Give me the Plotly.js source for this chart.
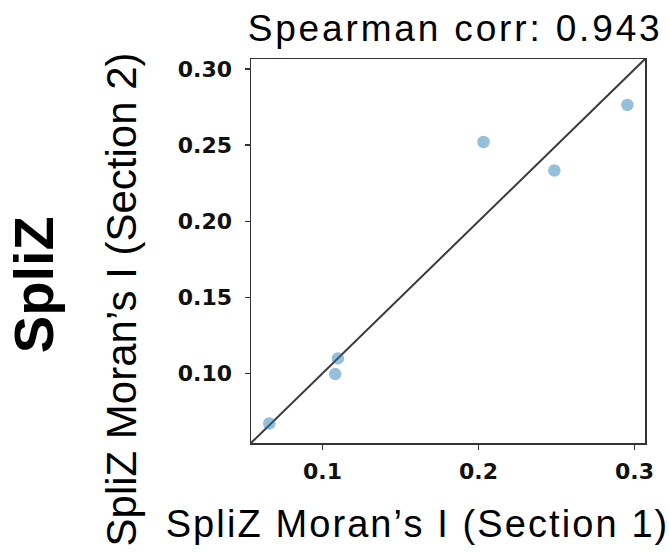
<!DOCTYPE html>
<html>
<head>
<meta charset="utf-8">
<script src="https://cdn.plot.ly/plotly-3.0.1.min.js"></script>
<style>
  html, body { margin: 0; padding: 0; background: #ffffff; }
  #chart { width: 669px; height: 553px; }
  /* looser tracking for the headline and the horizontal axis caption */
  #chart .gtitle { letter-spacing: 2.85px; }
  #chart g.annotation[data-index="0"] text { letter-spacing: 2.1px; }
</style>
</head>
<body>
<div id="chart"></div>
<script>
// Moran's I of each SpliZ feature, measured on two tissue sections
const section1 = [0.0659, 0.1099, 0.1082, 0.2032, 0.2486, 0.2954];
const section2 = [0.0670, 0.1098, 0.0995, 0.2521, 0.2334, 0.2765];

// shared axis limits; the identity line spans them
const axisLimits = [0.0542, 0.3067];

const xTickValues = [0.1, 0.2, 0.3];
const xTickLabels = ['0.1', '0.2', '0.3'];
const yTickValues = [0.10, 0.15, 0.20, 0.25, 0.30];
const yTickLabels = ['0.10', '0.15', '0.20', '0.25', '0.30'];

const titleText = 'Spearman corr: 0.943';
const xTitleText = 'SpliZ Moran\u2019s I (Section 1)';
const yTitleText = 'SpliZ Moran\u2019s I (Section 2)';
const rowLabel = 'SpliZ';

const tickFont = { family: 'DejaVu Sans', size: 22, color: '#111111', weight: 'bold' };
const spine = '#333333';

const traces = [
  {
    type: 'scatter',
    mode: 'lines',
    x: axisLimits,
    y: axisLimits,
    line: { color: '#3a3a3a', width: 2 },
    hoverinfo: 'skip',
    showlegend: false
  },
  {
    type: 'scatter',
    mode: 'markers',
    x: section1,
    y: section2,
    marker: { size: 12.5, color: 'rgba(31,119,180,0.47)', line: { width: 0 } },
    showlegend: false
  }
];

const layout = {
  width: 669,
  height: 553,
  margin: { l: 251, r: 24, t: 59, b: 110, pad: 0 },
  paper_bgcolor: '#ffffff',
  plot_bgcolor: '#ffffff',
  showlegend: false,
  title: {
    text: titleText,
    font: { family: 'Liberation Sans, Arial, sans-serif', size: 37, color: '#000000' },
    xref: 'paper',
    x: 0.518,
    xanchor: 'center',
    yref: 'container',
    y: 0.9487,
    yanchor: 'middle'
  },
  xaxis: {
    range: axisLimits,
    tickvals: xTickValues,
    ticktext: xTickLabels,
    ticks: 'outside',
    ticklen: 5,
    tickwidth: 1.5,
    tickcolor: spine,
    tickfont: tickFont,
    ticklabelstandoff: 3,
    showgrid: false,
    zeroline: false,
    showline: true,
    mirror: true,
    linecolor: spine,
    linewidth: 1.5
  },
  yaxis: {
    range: axisLimits,
    tickvals: yTickValues,
    ticktext: yTickLabels,
    ticks: 'outside',
    ticklen: 5,
    tickwidth: 1.5,
    tickcolor: spine,
    tickfont: tickFont,
    ticklabelstandoff: 8,
    showgrid: false,
    zeroline: false,
    showline: true,
    mirror: true,
    linecolor: spine,
    linewidth: 1.5
  },
  annotations: [
    {
      text: xTitleText,
      xref: 'paper', yref: 'paper',
      x: 0.422, y: -0.21,
      xanchor: 'center', yanchor: 'middle',
      showarrow: false,
      font: { family: 'Liberation Sans, Arial, sans-serif', size: 38, color: '#000000' }
    },
    {
      text: yTitleText,
      xref: 'paper', yref: 'paper',
      x: -0.3287, y: 0.375,
      xanchor: 'center', yanchor: 'middle',
      textangle: -90,
      showarrow: false,
      font: { family: 'Liberation Sans, Arial, sans-serif', size: 42, color: '#000000' }
    },
    {
      text: '<b>' + rowLabel + '</b>',
      xref: 'paper', yref: 'paper',
      x: -0.5503, y: 0.4115,
      xanchor: 'center', yanchor: 'middle',
      textangle: -90,
      showarrow: false,
      font: { family: 'Liberation Sans, Arial, sans-serif', size: 56, color: '#000000' }
    }
  ]
};

Plotly.newPlot('chart', traces, layout, { displayModeBar: false, staticPlot: true });
</script>
</body>
</html>
